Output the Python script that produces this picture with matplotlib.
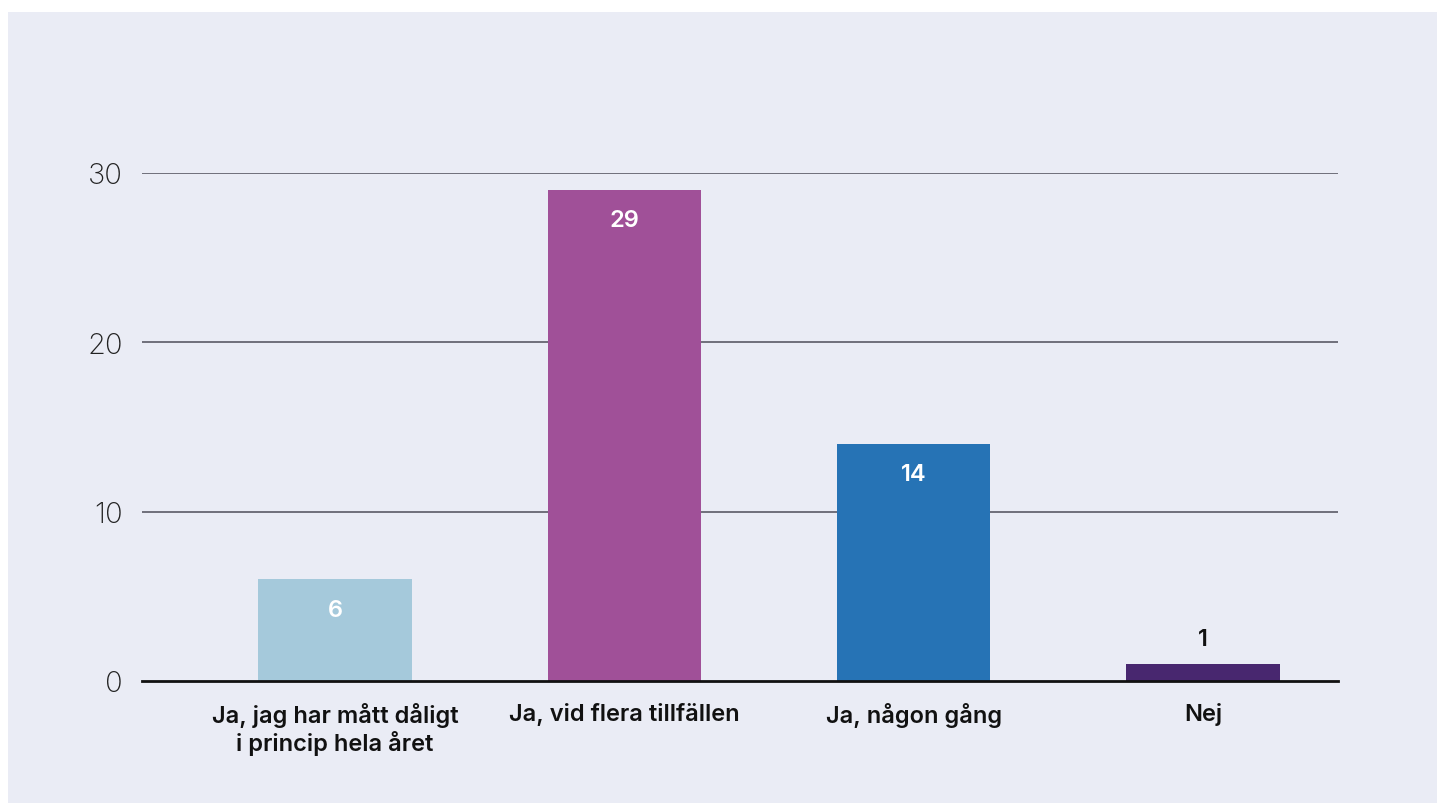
import matplotlib.pyplot as plt
from matplotlib.patches import Rectangle

# Data
categories = ['Ja, jag har mått dåligt\ni princip hela året',
              'Ja, vid flera tillfällen',
              'Ja, någon gång',
              'Nej']
values = [6, 29, 14, 1]
colors = ['#A5C9DB', '#A05098', '#2673B5', '#48276F']
y_ticks = [0, 10, 20, 30]

bg = '#EAECF5'
plt.rcParams['font.family'] = ['Inter', 'DejaVu Sans']

fig = plt.figure(figsize=(14.37, 8.04), dpi=100)
fig.patch.set_facecolor('white')
# light panel behind the chart
panel = Rectangle((8 / 1437, 0), 1 - 8 / 1437, 1 - 13 / 804,
                  transform=fig.transFigure, facecolor=bg, edgecolor='none')
panel.set_zorder(-1)
fig.patches.append(panel)

ax = fig.add_axes([142 / 1437, 1 - 682 / 804, (1338 - 142) / 1437, (682 - 174) / 804])
ax.set_facecolor('none')
ax.set_zorder(1)

x = range(len(categories))
bars = ax.bar(x, values, width=0.53, color=colors, zorder=3)

ax.set_xlim(-0.667, 3.467)
ax.set_ylim(0, 30)
ax.set_yticks(y_ticks)
ax.set_yticklabels([str(t) for t in y_ticks], fontsize=21, fontweight='light', color='#222222')
ax.tick_params(axis='y', length=0, pad=14)
ax.set_xticks(list(x))
ax.set_xticklabels(categories, fontsize=17, fontweight='semibold', color='#111111',
                   linespacing=1.15)
ax.tick_params(axis='x', length=0, pad=15)

for t in y_ticks[1:]:
    ax.axhline(t, color='#5a5a66', linewidth=1.2, zorder=1)
ax.axhline(0, color='#111111', linewidth=2, zorder=4, clip_on=False)

for spine in ax.spines.values():
    spine.set_visible(False)

# value labels
for i, v in enumerate(values):
    if v >= 3:
        ax.annotate(str(v), (i, v), xytext=(0, -22), textcoords='offset points',
                    ha='center', va='center', fontsize=17, fontweight='semibold',
                    color='white', zorder=5)
    else:
        ax.annotate(str(v), (i, v), xytext=(0, 18), textcoords='offset points',
                    ha='center', va='center', fontsize=17, fontweight='semibold',
                    color='#111111', zorder=5)

fig.savefig('out.png', dpi=100, facecolor=fig.get_facecolor())
